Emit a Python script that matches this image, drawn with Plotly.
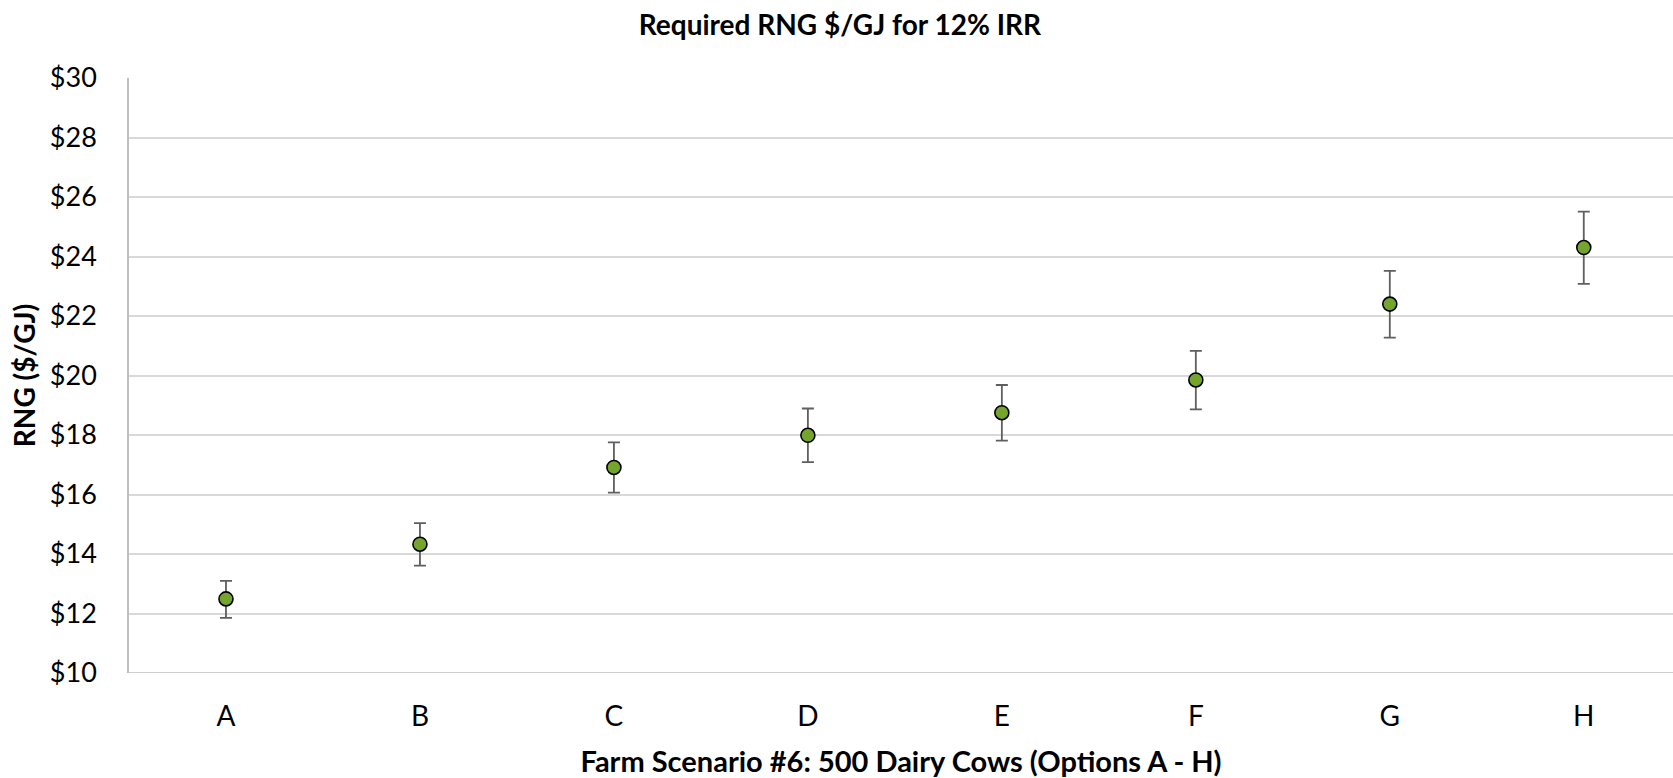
import plotly.graph_objects as go

categories = ["A", "B", "C", "D", "E", "F", "G", "H"]
values = [12.49, 14.33, 16.91, 17.99, 18.75, 19.85, 22.40, 24.30]
err_plus = [0.61, 0.71, 0.84, 0.90, 0.93, 0.98, 1.12, 1.21]
err_minus = [0.64, 0.72, 0.85, 0.90, 0.94, 0.99, 1.13, 1.22]
y_ticks = [10, 12, 14, 16, 18, 20, 22, 24, 26, 28, 30]
y_tick_labels = ["$" + str(v) for v in y_ticks]

FONT = "Lato"

fig = go.Figure()
fig.add_trace(go.Scatter(
    x=list(range(len(categories))),
    y=values,
    mode="markers",
    marker=dict(size=14, color="#76A52E", line=dict(color="#000000", width=1.6)),
    error_y=dict(type="data", symmetric=False, array=err_plus, arrayminus=err_minus,
                 color="#5F5F5F", thickness=1.8, width=6),
    showlegend=False,
))

fig.update_layout(
    width=1673, height=778,
    margin=dict(l=129, r=0, t=78, b=105),
    paper_bgcolor="white", plot_bgcolor="white",
    title=dict(text="<b>Required RNG $/GJ for 12% IRR</b>", x=0.502, xanchor="center",
               y=0.967, yanchor="middle", font=dict(family=FONT, size=28, color="#000000")),
    font=dict(family=FONT, color="#000000"),
)
fig.update_xaxes(
    range=[-0.5, 7.46], tickmode="array", tickvals=list(range(len(categories))),
    ticktext=categories, tickfont=dict(size=28, family=FONT, color="#000000"),
    showgrid=False, zeroline=False, showline=False, ticks="", ticklabelstandoff=24,
    title=dict(text="<b>Farm Scenario #6: 500 Dairy Cows (Options A - H)</b>",
               font=dict(size=29, family=FONT, color="#000000"), standoff=24),
)
fig.update_yaxes(
    range=[10, 30], tickmode="array", tickvals=y_ticks, ticktext=y_tick_labels,
    tickfont=dict(size=27, family=FONT, color="#000000"),
    showgrid=True, gridcolor="#D9D9D9", gridwidth=1.6,
    zeroline=False, showline=True, linecolor="#BFBFBF", linewidth=1.6,
    ticks="", ticklabelstandoff=25,
    title=dict(text="<b>RNG ($/GJ)</b>", font=dict(size=28, family=FONT, color="#000000"), standoff=6),
)
fig.add_shape(type="line", xref="paper", yref="y", x0=0, x1=1, y0=10, y1=10,
              line=dict(color="#BFBFBF", width=1.6))

fig.write_html("out.html")
